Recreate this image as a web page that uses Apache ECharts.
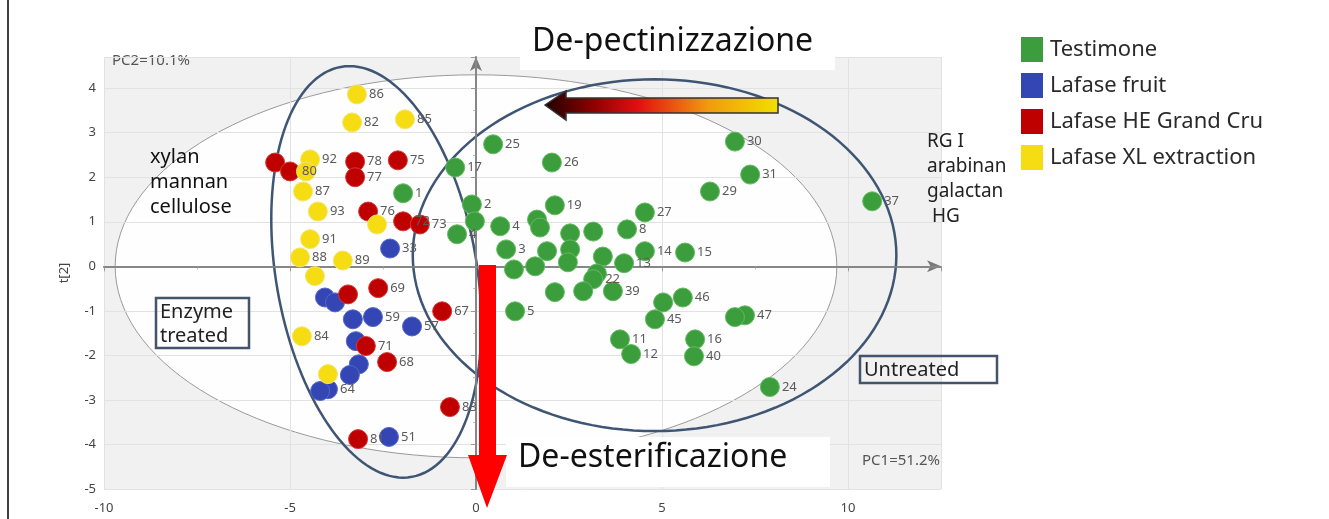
<!DOCTYPE html>
<html>
<head>
<meta charset="utf-8">
<script src="https://cdn.jsdelivr.net/npm/echarts@6/dist/echarts.min.js"></script>
<style>
  html, body { margin: 0; background: #fff; }
  #main { width: 1329px; height: 519px; }
</style>
</head>
<body>
<div id="main"></div>
<script>
// PCA score plot  t[1] / t[2]

// Testimone
const greenX = [0.46, 2.04, -0.56, -1.96, -0.11, 2.12, 4.54, 6.96, 7.37, 6.29, 10.65, -0.03, -0.51, 0.65, 1.64, 1.72, 2.53, 3.15, 4.06, 0.81, 1.91, 2.53, 3.41, 4.54, 5.62, 1.02, 1.59, 2.47, 3.98, 3.25, 3.15, 2.12, 2.88, 3.68, 5.56, 5.03, 4.81, 7.23, 6.96, 3.87, 4.17, 5.89, 5.86, 7.90, 1.05];
const greenY = [2.74, 2.33, 2.22, 1.64, 1.39, 1.37, 1.21, 2.80, 2.06, 1.68, 1.46, 1.01, 0.72, 0.90, 1.05, 0.87, 0.74, 0.78, 0.83, 0.38, 0.34, 0.38, 0.22, 0.34, 0.31, -0.07, 0.00, 0.09, 0.07, -0.16, -0.29, -0.58, -0.56, -0.56, -0.70, -0.81, -1.19, -1.10, -1.14, -1.64, -1.97, -1.64, -2.02, -2.71, -1.01];
const greenLabels = ['25', '26', '17', '1', '2', '19', '27', '30', '31', '29', '37', '', '4', '4', '', '', '', '', '8', '3', '', '', '', '14', '15', '', '', '', '13', '', '22', '', '', '39', '46', '', '45', '47', '', '11', '12', '16', '40', '24', '5'];

// Lafase fruit
const blueX = [-2.31, -4.06, -3.79, -3.31, -2.77, -1.72, -3.23, -3.15, -3.39, -3.98, -4.19, -2.34];
const blueY = [0.40, -0.70, -0.81, -1.19, -1.14, -1.35, -1.68, -2.20, -2.44, -2.76, -2.80, -3.83];
const blueLabels = ['33', '', '', '', '59', '57', '', '', '', '64', '', '51'];

// Lafase HE Grand Cru
const redX = [-5.40, -5.00, -3.25, -3.25, -2.10, -2.90, -1.96, -1.51, -2.63, -3.44, -0.91, -2.96, -2.39, -0.70, -3.17];
const redY = [2.33, 2.13, 2.35, 2.00, 2.38, 1.23, 1.01, 0.94, -0.49, -0.63, -1.01, -1.79, -2.15, -3.16, -3.88];
const redLabels = ['', '80', '78', '77', '75', '76', '72', '73', '69', '', '67', '71', '68', '83', '81'];

// Lafase XL extraction
const yellowX = [-3.20, -3.33, -1.91, -4.46, -4.57, -4.65, -4.25, -2.66, -4.46, -4.73, -3.58, -4.33, -4.68, -3.98];
const yellowY = [3.86, 3.23, 3.30, 2.40, 2.13, 1.68, 1.23, 0.94, 0.61, 0.20, 0.13, -0.22, -1.57, -2.42];
const yellowLabels = ['86', '82', '85', '92', '', '87', '93', '', '91', '88', '89', '', '84', ''];

const seriesNames = ['Testimone', 'Lafase fruit', 'Lafase HE Grand Cru', 'Lafase XL extraction'];
const xTicks = [-10, -5, 0, 5, 10];

// zones drawn on the plot (centre, half axes, shear)
const hotelling = { cx: 0, cy: 0, rx: 9.7, ry: 4.3, shear: 0 };
const zones = [
  { cx: -2.68, cy: -0.125, rx: 2.73, ry: 4.62, shear: -0.156 },
  { cx: 4.8, cy: 0.25, rx: 6.5, ry: 3.95, shear: 0 }
];

function ellipsePts(api, e) {
  let pts = [];
  for (let k = 0; k <= 144; k++) {
    let t = k / 144 * Math.PI * 2;
    let dy = e.ry * Math.sin(t);
    pts.push(api.coord([e.cx + e.rx * Math.cos(t) + e.shear * dy, e.cy + dy]));
  }
  return pts;
}

function toData(xs, ys, labels) {
  return xs.map((x, i) => [x, ys[i], labels[i]]);
}

function scatter(name, xs, ys, labels, color, border) {
  return {
    name: name,
    type: 'scatter',
    z: 5,
    symbolSize: 19,
    data: toData(xs, ys, labels),
    itemStyle: { color: color, borderColor: border, borderWidth: 1, opacity: 1 },
    label: {
      show: true,
      position: 'right',
      distance: 2,
      color: '#5a5a5a',
      fontSize: 13,
      fontFamily: 'Noto Sans',
      formatter: p => p.data[2]
    },
    emphasis: { disabled: true }
  };
}

const chart = echarts.init(document.getElementById('main'));
const font = 'Noto Sans';

const option = {
  backgroundColor: '#fff',
  animation: false,
  grid: { left: 104, right: 388, top: 57, bottom: 30 },
  legend: {
    data: seriesNames,
    orient: 'vertical',
    left: 1016,
    top: 32,
    icon: 'rect',
    itemWidth: 22,
    itemHeight: 25,
    itemGap: 11,
    itemStyle: { borderWidth: 0 },
    textStyle: { fontFamily: font, fontSize: 22, color: '#2a2a2a', padding: [0, 0, 0, 2] }
  },
  xAxis: {
    type: 'value',
    min: -10,
    max: 12.5,
    interval: 5,
    axisLine: { lineStyle: { color: '#7a7a7a', width: 2 }, symbol: ['none', 'arrow'], symbolSize: [9, 14] },
    axisTick: { length: 5, lineStyle: { color: '#999' } },
    minorTick: { show: true, splitNumber: 2, length: 3, lineStyle: { color: '#bbb' } },
    axisLabel: {
      color: '#444', fontSize: 13, fontFamily: font, margin: 13,
      formatter: v => (xTicks.indexOf(v) >= 0 ? String(v) : '')
    },
    splitLine: { show: true, lineStyle: { color: '#e2e2e2' } }
  },
  yAxis: {
    type: 'value',
    min: -5,
    max: 4.7,
    interval: 1,
    name: 't[2]',
    nameLocation: 'middle',
    nameGap: 33,
    nameRotate: 90,
    nameTextStyle: { color: '#444', fontSize: 13, fontFamily: font },
    axisLine: { lineStyle: { color: '#7a7a7a', width: 2 }, symbol: ['none', 'arrow'], symbolSize: [9, 14] },
    axisTick: { length: 5, lineStyle: { color: '#999' } },
    minorTick: { show: true, splitNumber: 2, length: 3, lineStyle: { color: '#bbb' } },
    axisLabel: {
      color: '#444', fontSize: 13, fontFamily: font, margin: 8,
      formatter: v => (Number.isInteger(v) ? String(v) : '')
    },
    splitLine: { show: true, lineStyle: { color: '#e2e2e2' } }
  },
  series: [
    {
      // plot background + Hotelling ellipse
      type: 'custom',
      z: -1,
      silent: true,
      clip: false,
      data: [[0, 0]],
      renderItem: (params, api) => {
        let tl = api.coord([-10, 4.7]);
        let br = api.coord([12.5, -5]);
        return {
          type: 'group',
          children: [
            {
              type: 'rect',
              shape: { x: tl[0], y: tl[1], width: br[0] - tl[0], height: br[1] - tl[1] },
              style: { fill: '#f1f1f1' }
            },
            {
              type: 'polygon',
              shape: { points: ellipsePts(api, hotelling) },
              style: { fill: '#fefefe', stroke: '#9a9a9a', lineWidth: 1 }
            }
          ]
        };
      }
    },
    {
      type: 'line',
      data: [],
      z: 1,
      markLine: {
        silent: true,
        symbol: 'none',
        label: { show: false },
        lineStyle: { color: '#8c8c8c', width: 1.5, type: 'solid' },
        data: [{ xAxis: 0 }, { yAxis: 0 }]
      }
    },
    {
      // zone ellipses
      type: 'custom',
      z: 3,
      silent: true,
      clip: false,
      data: [[0, 0], [1, 0]],
      renderItem: (params, api) => ({
        type: 'polyline',
        shape: { points: ellipsePts(api, zones[params.dataIndex]) },
        style: { fill: null, stroke: '#3f5574', lineWidth: 2.5 }
      })
    },
    scatter(seriesNames[0], greenX, greenY, greenLabels, '#3c9d3c', '#62bb62'),
    scatter(seriesNames[1], blueX, blueY, blueLabels, '#3446b4', '#5566cc'),
    scatter(seriesNames[2], redX, redY, redLabels, '#bf0000', '#d83535'),
    scatter(seriesNames[3], yellowX, yellowY, yellowLabels, '#f6dc12', '#f3e66a')
  ],
  graphic: [
    { type: 'line', shape: { x1: 8, y1: 0, x2: 8, y2: 519 }, style: { stroke: '#000', lineWidth: 1.5 } },
    { type: 'text', left: 112, top: 53, style: { text: 'PC2=10.1%', fontSize: 15, fill: '#555', fontFamily: font } },
    { type: 'text', left: 862, top: 453, style: { text: 'PC1=51.2%', fontSize: 15, fill: '#555', fontFamily: font } },
    // title boxes
    { type: 'rect', shape: { x: 520, y: 22, width: 315, height: 48 }, style: { fill: '#fff' }, z: 10 },
    { type: 'text', left: 532, top: 26, z: 11, style: { text: 'De-pectinizzazione', fontSize: 32, fill: '#111', fontFamily: font } },
    { type: 'rect', shape: { x: 506, y: 437, width: 324, height: 50 }, style: { fill: '#fff' }, z: 10 },
    { type: 'text', left: 518, top: 442, z: 11, style: { text: 'De-esterificazione', fontSize: 32, fill: '#111', fontFamily: font } },
    // gradient arrow
    {
      type: 'polygon', z: 12,
      shape: { points: [[545, 105], [566, 91], [566, 98], [778, 98], [778, 113], [566, 113], [566, 120]] },
      style: {
        stroke: '#333', lineWidth: 1.5,
        fill: new echarts.graphic.LinearGradient(0, 0, 1, 0, [
          { offset: 0, color: '#1e0000' },
          { offset: 0.2, color: '#8a0000' },
          { offset: 0.4, color: '#e01010' },
          { offset: 0.7, color: '#f29a10' },
          { offset: 1, color: '#f2e000' }
        ])
      }
    },
    // red arrow
    {
      type: 'polygon', z: 12,
      shape: { points: [[479, 265], [496, 265], [496, 455], [507, 455], [487, 508], [468, 455], [479, 455]] },
      style: { fill: '#ff0000' }
    },
    // texts in the plot
    { type: 'text', left: 150, top: 145, z: 11, style: { text: 'xylan\nmannan\ncellulose', fontSize: 20, lineHeight: 25, fill: '#111', fontFamily: font } },
    { type: 'rect', z: 11, shape: { x: 156, y: 298, width: 93, height: 50 }, style: { fill: 'none', stroke: '#44546a', lineWidth: 2.5 } },
    { type: 'text', left: 160, top: 300, z: 11, style: { text: 'Enzyme\ntreated', fontSize: 20, lineHeight: 24, fill: '#222', fontFamily: font } },
    { type: 'rect', z: 11, shape: { x: 860, y: 356, width: 137, height: 27 }, style: { fill: 'none', stroke: '#44546a', lineWidth: 2.5 } },
    { type: 'text', left: 864, top: 358, z: 11, style: { text: 'Untreated', fontSize: 20, lineHeight: 24, fill: '#222', fontFamily: font } },
    { type: 'text', left: 927, top: 129, z: 11, style: { text: 'RG I\narabinan\ngalactan\n HG', fontSize: 19, lineHeight: 25, fill: '#222', fontFamily: font } }
  ]
};

chart.setOption(option);
</script>
</body>
</html>
